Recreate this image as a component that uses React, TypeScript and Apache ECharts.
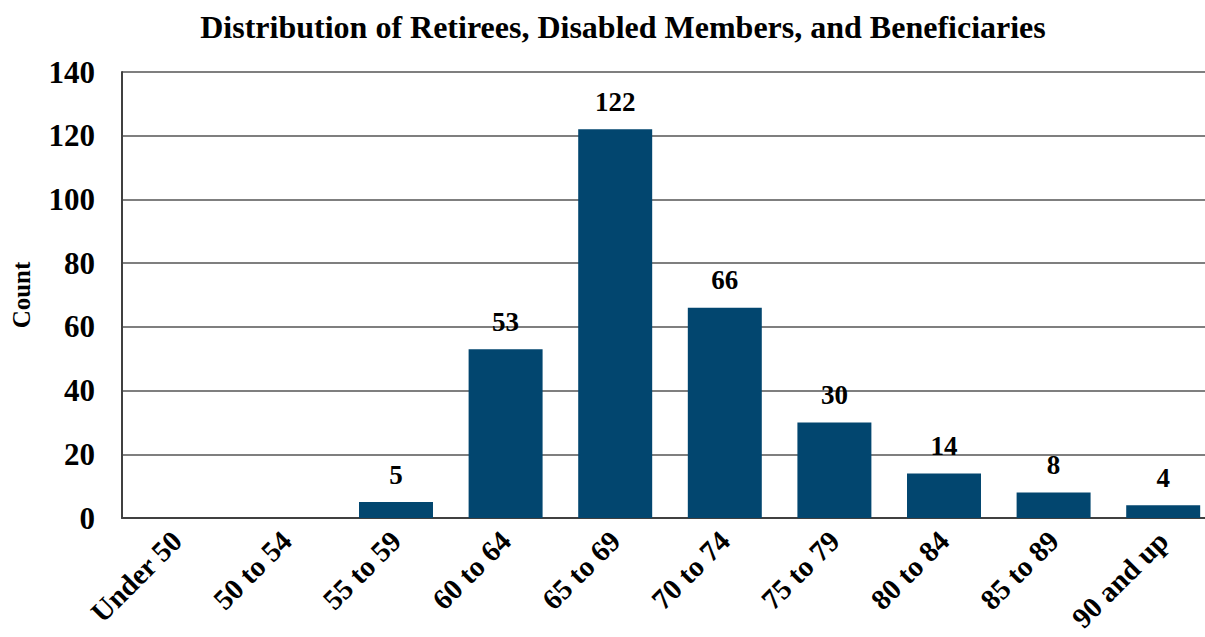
import React, { useEffect, useRef } from "react";
import * as echarts from "echarts";

const categories = ["Under 50", "50 to 54", "55 to 59", "60 to 64", "65 to 69", "70 to 74", "75 to 79", "80 to 84", "85 to 89", "90 and up"];
const counts = [0, 0, 5, 53, 122, 66, 30, 14, 8, 4];
const labelText = ["", "", "5", "53", "122", "66", "30", "14", "8", "4"];

const FONT = "'Liberation Serif', 'Times New Roman', serif";

export default function App() {
  const ref = useRef<HTMLDivElement>(null);
  useEffect(() => {
    document.body.style.margin = "0";
    const chart = echarts.init(ref.current!, null, { renderer: "svg" });
    chart.setOption({
      animation: false,
      title: {
        text: "Distribution of Retirees, Disabled Members, and Beneficiaries",
        left: 618,
        textAlign: "center",
        top: 6,
        textStyle: { fontFamily: FONT, fontWeight: "bold", fontSize: 32, color: "#000" },
      },
      grid: { left: 122, width: 1096, top: 72, height: 446, outerBoundsMode: "none", containLabel: false },
      xAxis: {
        type: "category",
        data: categories,
        axisLine: { show: true, lineStyle: { color: "#404040", width: 2 } },
        axisTick: { show: false },
        axisLabel: {
          rotate: 45,
          interval: 0,
          margin: 18,
          fontFamily: FONT,
          fontWeight: "bold",
          fontSize: 29,
          color: "#000",
        },
      },
      yAxis: {
        type: "value",
        min: 0,
        max: 140,
        interval: 20,
        name: "Count",
        nameLocation: "middle",
        nameRotate: 90,
        nameGap: 88,
        nameTextStyle: { fontFamily: FONT, fontWeight: "bold", fontSize: 25, color: "#000" },
        axisLine: { show: true, lineStyle: { color: "#404040", width: 2 } },
        axisTick: { show: false },
        splitLine: { show: true, lineStyle: { color: "#555", width: 1.5 } },
        axisLabel: {
          margin: 27,
          fontFamily: FONT,
          fontWeight: "bold",
          fontSize: 31,
          color: "#000",
        },
      },
      series: [
        {
          type: "bar",
          data: counts,
          barWidth: "67.5%",
          itemStyle: { color: "#02466f" },
          label: {
            show: true,
            position: "top",
            distance: 14,
            fontFamily: FONT,
            fontWeight: "bold",
            fontSize: 27,
            color: "#000",
            formatter: (p: any) => labelText[p.dataIndex],
          },
        },
      ],
    });
    return () => chart.dispose();
  }, []);
  return <div ref={ref} style={{ width: 1205, height: 637 }} />;
}
